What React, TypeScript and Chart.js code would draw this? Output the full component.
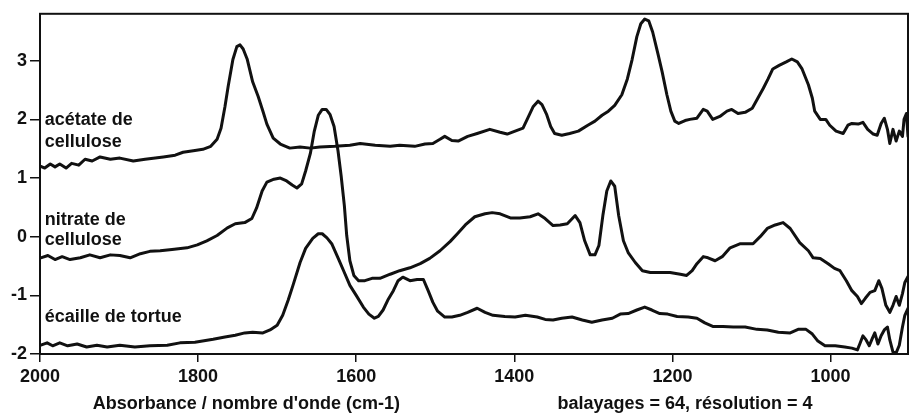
import React, { useEffect, useRef } from "react";
import { Chart, registerables } from "chart.js";

Chart.register(...registerables);

// Spectra: [wavenumber (cm-1), absorbance (offset)]
const acetate: [number, number][] = [
  [1999, 1.2], [1994, 1.17], [1987, 1.24], [1981, 1.19], [1975, 1.24], [1967, 1.17], [1960, 1.25],
  [1951, 1.22], [1943, 1.32], [1934, 1.29], [1924, 1.36], [1911, 1.32], [1899, 1.34], [1882, 1.29],
  [1867, 1.32], [1844, 1.36], [1829, 1.39], [1819, 1.44], [1804, 1.47], [1794, 1.49], [1784, 1.54],
  [1776, 1.66], [1771, 1.85], [1766, 2.22], [1762, 2.56], [1756, 3.02], [1751, 3.24], [1747, 3.27],
  [1743, 3.2], [1738, 3.03], [1731, 2.64], [1724, 2.39], [1718, 2.14], [1713, 1.92], [1705, 1.68],
  [1696, 1.58], [1684, 1.51], [1671, 1.53], [1658, 1.51], [1646, 1.53], [1627, 1.54], [1608, 1.56],
  [1595, 1.59], [1576, 1.56], [1557, 1.54], [1545, 1.56], [1526, 1.54], [1513, 1.58], [1503, 1.59],
  [1494, 1.66], [1488, 1.71], [1479, 1.64], [1471, 1.63], [1459, 1.71], [1447, 1.76], [1431, 1.83],
  [1418, 1.78], [1409, 1.75], [1399, 1.8], [1389, 1.85], [1383, 2.02], [1376, 2.22], [1370, 2.31],
  [1365, 2.25], [1359, 2.08], [1354, 1.88], [1349, 1.76], [1340, 1.73], [1330, 1.76], [1319, 1.8],
  [1307, 1.9], [1298, 1.97], [1289, 2.07], [1281, 2.14], [1273, 2.24], [1264, 2.42], [1257, 2.69],
  [1251, 3.02], [1245, 3.41], [1240, 3.63], [1235, 3.71], [1230, 3.68], [1225, 3.49], [1218, 3.1],
  [1213, 2.81], [1207, 2.42], [1202, 2.14], [1197, 1.97], [1192, 1.93], [1184, 1.98], [1178, 2.0],
  [1169, 2.02], [1161, 2.17], [1156, 2.14], [1149, 2.0], [1140, 2.05], [1131, 2.14], [1125, 2.17],
  [1117, 2.1], [1108, 2.12], [1099, 2.19], [1092, 2.36], [1085, 2.53], [1079, 2.69], [1073, 2.86],
  [1065, 2.92], [1056, 2.98], [1049, 3.03], [1042, 2.98], [1036, 2.86], [1028, 2.59], [1023, 2.36],
  [1020, 2.14], [1013, 2.0], [1006, 2.0], [1001, 1.9], [993, 1.8], [984, 1.76], [978, 1.9],
  [973, 1.93], [965, 1.92], [959, 1.95], [953, 1.83], [946, 1.75], [941, 1.73], [936, 1.93],
  [932, 2.02], [928, 1.83], [925, 1.59], [921, 1.83], [917, 1.63], [913, 1.8], [909, 1.71],
  [907, 2.0], [904, 2.1], [902, 1.71],
];

const nitrate: [number, number][] = [
  [1999, -0.36], [1990, -0.32], [1981, -0.39], [1972, -0.34], [1962, -0.39], [1949, -0.36],
  [1937, -0.31], [1924, -0.36], [1911, -0.31], [1899, -0.32], [1886, -0.36], [1873, -0.29],
  [1861, -0.25], [1848, -0.24], [1833, -0.22], [1814, -0.19], [1801, -0.14], [1789, -0.07],
  [1776, 0.02], [1763, 0.15], [1753, 0.22], [1741, 0.24], [1732, 0.31], [1726, 0.49], [1719, 0.78],
  [1713, 0.93], [1704, 0.98], [1696, 1.0], [1688, 0.95], [1681, 0.88], [1675, 0.83], [1669, 0.9],
  [1664, 1.12], [1658, 1.42], [1653, 1.8], [1648, 2.07], [1643, 2.17], [1638, 2.17], [1633, 2.08],
  [1628, 1.88], [1623, 1.46], [1619, 1.03], [1615, 0.53], [1612, 0.02], [1608, -0.41], [1603, -0.66],
  [1597, -0.75], [1589, -0.75], [1580, -0.71], [1570, -0.71], [1557, -0.64], [1545, -0.58],
  [1532, -0.53], [1519, -0.46], [1507, -0.37], [1494, -0.24], [1481, -0.08], [1472, 0.05],
  [1462, 0.2], [1450, 0.34], [1437, 0.39], [1428, 0.41], [1418, 0.39], [1405, 0.32], [1393, 0.32],
  [1380, 0.34], [1370, 0.39], [1361, 0.31], [1351, 0.19], [1342, 0.2], [1333, 0.22], [1323, 0.36],
  [1317, 0.24], [1311, -0.07], [1304, -0.31], [1298, -0.31], [1293, -0.15], [1288, 0.36],
  [1283, 0.78], [1278, 0.95], [1273, 0.86], [1268, 0.36], [1262, -0.07], [1256, -0.27],
  [1247, -0.44], [1238, -0.58], [1228, -0.61], [1216, -0.61], [1203, -0.61], [1190, -0.64],
  [1182, -0.66], [1175, -0.58], [1169, -0.46], [1161, -0.34], [1155, -0.36], [1146, -0.41],
  [1137, -0.34], [1127, -0.19], [1114, -0.12], [1098, -0.12], [1089, 0.0], [1080, 0.14],
  [1070, 0.2], [1060, 0.24], [1051, 0.14], [1039, -0.1], [1028, -0.24], [1022, -0.36],
  [1013, -0.37], [1003, -0.46], [995, -0.54], [988, -0.58], [980, -0.75], [973, -0.92],
  [966, -1.02], [961, -1.14], [956, -1.05], [950, -0.95], [944, -0.92], [939, -0.75], [935, -0.88],
  [930, -1.17], [925, -1.29], [921, -1.17], [917, -1.02], [913, -1.17], [909, -0.97], [906, -0.78],
  [902, -0.68],
];

const tortoise: [number, number][] = [
  [1999, -1.85], [1991, -1.81], [1984, -1.86], [1975, -1.81], [1965, -1.86], [1953, -1.83],
  [1941, -1.88], [1928, -1.85], [1915, -1.88], [1899, -1.85], [1880, -1.88], [1861, -1.86],
  [1839, -1.85], [1823, -1.81], [1804, -1.8], [1781, -1.75], [1766, -1.71], [1753, -1.68],
  [1741, -1.64], [1731, -1.63], [1718, -1.64], [1709, -1.59], [1700, -1.51], [1693, -1.34],
  [1686, -1.08], [1680, -0.83], [1671, -0.44], [1664, -0.2], [1655, -0.03], [1648, 0.05],
  [1643, 0.05], [1637, -0.02], [1631, -0.12], [1623, -0.36], [1615, -0.61], [1608, -0.83],
  [1600, -1.0], [1591, -1.2], [1584, -1.32], [1577, -1.39], [1572, -1.36], [1566, -1.25],
  [1560, -1.08], [1553, -0.92], [1547, -0.75], [1541, -0.69], [1532, -0.75], [1523, -0.73],
  [1515, -0.73], [1509, -0.92], [1503, -1.12], [1497, -1.27], [1488, -1.37], [1479, -1.37],
  [1469, -1.34], [1459, -1.29], [1447, -1.22], [1437, -1.29], [1427, -1.34], [1412, -1.36],
  [1399, -1.37], [1386, -1.34], [1371, -1.37], [1361, -1.41], [1351, -1.42], [1340, -1.39],
  [1327, -1.37], [1314, -1.42], [1302, -1.46], [1289, -1.42], [1276, -1.39], [1266, -1.32],
  [1256, -1.31], [1245, -1.25], [1235, -1.2], [1226, -1.25], [1216, -1.31], [1206, -1.32],
  [1194, -1.36], [1180, -1.37], [1169, -1.39], [1159, -1.47], [1149, -1.53], [1136, -1.53],
  [1123, -1.54], [1108, -1.54], [1093, -1.58], [1080, -1.59], [1066, -1.63], [1051, -1.64],
  [1041, -1.58], [1031, -1.58], [1023, -1.66], [1016, -1.78], [1007, -1.86], [994, -1.86],
  [982, -1.88], [973, -1.9], [966, -1.93], [963, -1.83], [959, -1.69], [955, -1.76], [951, -1.86],
  [947, -1.73], [944, -1.64], [940, -1.83], [936, -1.69], [932, -1.59], [928, -1.54], [925, -1.76],
  [921, -1.97], [917, -1.98], [913, -1.85], [909, -1.54], [906, -1.34], [902, -1.22],
];

const xTickValues = [2000, 1800, 1600, 1400, 1200, 1000];
const yTickValues = [-2, -1, 0, 1, 2, 3];

const seriesNames = ["acétate de cellulose", "nitrate de cellulose", "écaille de tortue"];
const labelLines = [["acétate de", "cellulose"], ["nitrate de", "cellulose"], ["écaille de tortue"]];
const xAxisCaption = "Absorbance / nombre d'onde (cm-1)";
const scanCaption = "balayages = 64, résolution = 4";

// annotation anchors (data coordinates)
const labelAnchors = [
  { x: 1994, y: [1.9, 1.53] },
  { x: 1994, y: [0.2, -0.15] },
  { x: 1994, y: [-1.46] },
];
const captionAnchors = [1739, 1184];

const FONT = '"Liberation Sans", Arial, Helvetica, sans-serif';
const INK = "#111";

export default function App() {
  const ref = useRef<HTMLCanvasElement | null>(null);

  useEffect(() => {
    if (!ref.current) return;

    const textPlugin = {
      id: "spectraText",
      afterDraw(chart: any) {
        const { ctx, chartArea, scales } = chart;
        const xs = scales.x;
        const ys = scales.y;
        ctx.save();
        // frame
        ctx.strokeStyle = INK;
        ctx.lineWidth = 2;
        ctx.strokeRect(chartArea.left, chartArea.top, chartArea.right - chartArea.left, chartArea.bottom - chartArea.top);
        ctx.fillStyle = INK;
        ctx.font = `bold 18px ${FONT}`;
        ctx.textBaseline = "alphabetic";
        ctx.textAlign = "left";
        labelLines.forEach((lines, i) => {
          const a = labelAnchors[i];
          lines.forEach((t, j) => {
            ctx.fillText(t, xs.getPixelForValue(a.x), ys.getPixelForValue(a.y[j]));
          });
        });
        ctx.textAlign = "center";
        const base = chartArea.bottom + 55;
        ctx.fillText(xAxisCaption, xs.getPixelForValue(captionAnchors[0]), base);
        ctx.fillText(scanCaption, xs.getPixelForValue(captionAnchors[1]), base);
        ctx.restore();
      },
    };

    const mk = (name: string, pts: [number, number][]) => ({
      label: name,
      data: pts.map(([x, y]) => ({ x, y })),
      borderColor: INK,
      borderWidth: 3,
      borderJoinStyle: "round",
      borderCapStyle: "round",
      pointRadius: 0,
      tension: 0,
      fill: false,
    });

    const chart = new Chart(ref.current, {
      type: "line",
      data: {
        datasets: [
          mk(seriesNames[0], acetate),
          mk(seriesNames[1], nitrate),
          mk(seriesNames[2], tortoise),
        ],
      },
      options: {
        animation: false,
        responsive: false,
        maintainAspectRatio: false,
        parsing: false as any,
        layout: { padding: { top: 11, right: 8, left: 0, bottom: 0 } },
        plugins: {
          legend: { display: false },
          tooltip: { enabled: false },
          title: { display: false },
        },
        scales: {
          x: {
            type: "linear",
            reverse: true,
            min: 902,
            max: 2000,
            afterBuildTicks: (s: any) => {
              s.ticks = xTickValues.map((v) => ({ value: v }));
            },
            afterFit: (s: any) => {
              s.height = 61;
            },
            border: { display: true, color: INK, width: 2 },
            grid: { drawOnChartArea: false, drawTicks: true, tickLength: 8, color: INK, lineWidth: 1.5 },
            ticks: {
              color: INK,
              font: { family: FONT, size: 18, weight: "bold" },
              padding: 4,
              maxRotation: 0,
              autoSkip: false,
              callback: (v: any) => String(v),
            },
          },
          y: {
            type: "linear",
            min: -2,
            max: 3.8,
            afterBuildTicks: (s: any) => {
              s.ticks = yTickValues.map((v) => ({ value: v }));
            },
            afterFit: (s: any) => {
              s.width = 40;
            },
            border: { display: true, color: INK, width: 2 },
            grid: { drawOnChartArea: false, drawTicks: true, tickLength: 10, color: INK, lineWidth: 1.5 },
            ticks: {
              color: INK,
              font: { family: FONT, size: 18, weight: "bold" },
              padding: 3,
              autoSkip: false,
              callback: (v: any) => String(v),
            },
          },
        },
      },
      plugins: [textPlugin],
    } as any);

    return () => chart.destroy();
  }, []);

  return (
    <div style={{ position: "absolute", left: 0, top: 0, width: 916, height: 415, background: "#fff" }}>
      <canvas ref={ref} width={916} height={415} style={{ width: 916, height: 415, display: "block" }} />
    </div>
  );
}
